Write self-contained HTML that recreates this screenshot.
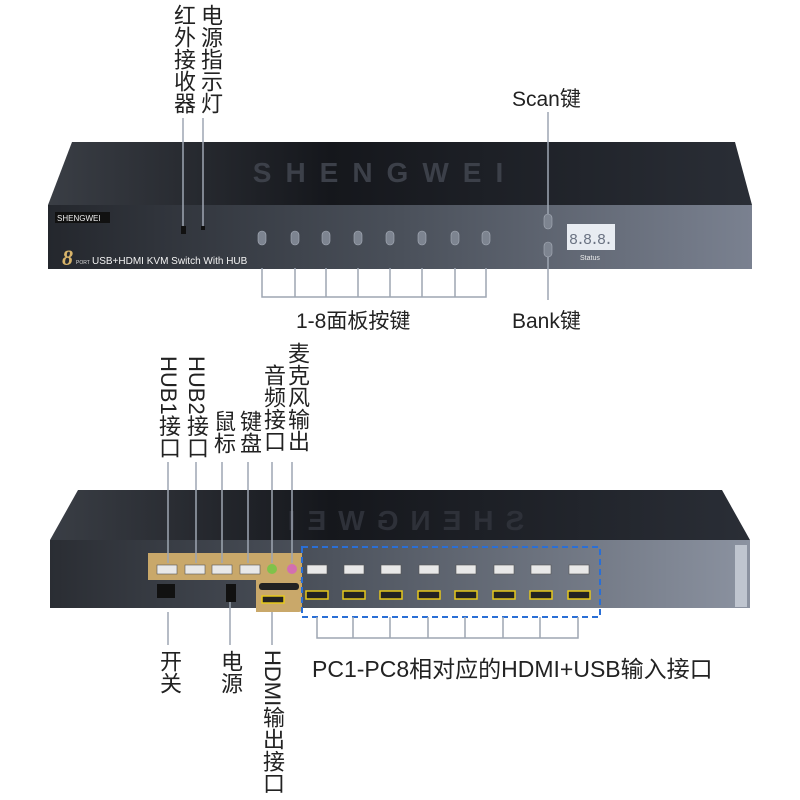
<!DOCTYPE html>
<html><head><meta charset="utf-8"><style>
body{margin:0;width:800px;height:800px;background:#fff;position:relative;overflow:hidden;font-family:"Liberation Sans","Noto Sans CJK SC",sans-serif;color:#222}
.v{position:absolute;writing-mode:vertical-rl;text-orientation:mixed;font-size:22px;line-height:24px;letter-spacing:0px}
.t{position:absolute;font-size:21px;white-space:nowrap}
svg{position:absolute;left:0;top:0}
</style></head><body>
<svg width="800" height="800" viewBox="0 0 800 800">
<defs>
<linearGradient id="tf" x1="0" x2="1"><stop offset="0" stop-color="#3a3e45"/><stop offset=".4" stop-color="#15171c"/><stop offset="1" stop-color="#2a2e36"/></linearGradient>
<linearGradient id="ff" x1="0" x2="1"><stop offset="0" stop-color="#24272d"/><stop offset=".5" stop-color="#4a505a"/><stop offset="1" stop-color="#7a8190"/></linearGradient>
<linearGradient id="bf" x1="0" x2="1"><stop offset="0" stop-color="#2a2d33"/><stop offset=".4" stop-color="#4d535d"/><stop offset="1" stop-color="#8b92a0"/></linearGradient>
</defs>
<!-- top device -->
<polygon points="72,142 735,142 752,205 48,205" fill="url(#tf)"/>
<text x="385" y="182" font-family="Liberation Sans" font-size="28" fill="#3c4049" text-anchor="middle" letter-spacing="14" font-weight="bold">SHENGWEI</text>
<rect x="48" y="205" width="704" height="64" fill="url(#ff)"/>
<rect x="55" y="212" width="55" height="11" fill="#111"/>
<text x="57" y="221" font-size="8" fill="#eee" font-family="Liberation Sans">SHENGWEI</text>
<text x="62" y="265" font-size="22" fill="#d9b56a" font-style="italic" font-weight="bold" font-family="Liberation Serif">8</text>
<text x="76" y="264" font-size="5" fill="#ddd">PORT</text>
<text x="92" y="264" font-size="10" fill="#f2f2f2">USB+HDMI KVM Switch With HUB</text>
<rect x="181" y="226" width="5" height="8" fill="#111"/><rect x="201" y="226" width="4" height="4" fill="#111"/>
<g fill="#7d8490" stroke="#aab0bb" stroke-width=".6">
<rect x="258" y="231" width="8" height="14" rx="4"/><rect x="291" y="231" width="8" height="14" rx="4"/><rect x="322" y="231" width="8" height="14" rx="4"/><rect x="354" y="231" width="8" height="14" rx="4"/><rect x="386" y="231" width="8" height="14" rx="4"/><rect x="418" y="231" width="8" height="14" rx="4"/><rect x="451" y="231" width="8" height="14" rx="4"/><rect x="482" y="231" width="8" height="14" rx="4"/>
<rect x="544" y="214" width="8" height="15" rx="4"/><rect x="544" y="242" width="8" height="15" rx="4"/>
</g>
<rect x="567" y="224" width="48" height="26" fill="#e8ecf2"/>
<text x="569" y="244" font-size="15" fill="#6a7282" font-family="Liberation Mono" textLength="44">8.8.8.</text>
<text x="580" y="260" font-size="7" fill="#eee">Status</text>
<g stroke="#9ea6b2" stroke-width="1.5" fill="none">
<line x1="183" y1="118" x2="183" y2="226"/><line x1="203" y1="118" x2="203" y2="226"/>
<line x1="548" y1="112" x2="548" y2="214"/><line x1="548" y1="257" x2="548" y2="300"/>
<path d="M262 268V297H486V268M295 268V297M326 268V297M358 268V297M390 268V297M422 268V297M455 268V297"/>
</g>
<!-- bottom device -->
<polygon points="78,490 722,490 750,540 50,540" fill="url(#tf)"/>
<text x="400" y="530" font-size="28" fill="#2e3139" text-anchor="middle" letter-spacing="12" font-weight="bold" transform="scale(-1,1) translate(-800,0)">SHENGWEI</text>
<rect x="50" y="540" width="700" height="68" fill="url(#bf)"/>
<rect x="735" y="545" width="12" height="62" fill="#bfc5cf"/>
<path d="M148 553H302V580H262V612H256V580H148Z" fill="#c9a86a"/>
<rect x="256" y="580" width="46" height="32" rx="3" fill="#c9a86a"/>
<rect x="259" y="583" width="40" height="7" rx="3" fill="#222"/>
<g fill="#e8e8e8" stroke="#555" stroke-width=".6">
<rect x="157" y="565" width="20" height="9"/><rect x="185" y="565" width="20" height="9"/><rect x="212" y="565" width="20" height="9"/><rect x="240" y="565" width="20" height="9"/>
<rect x="307" y="565" width="20" height="9"/><rect x="344" y="565" width="20" height="9"/><rect x="381" y="565" width="20" height="9"/><rect x="419" y="565" width="20" height="9"/><rect x="456" y="565" width="20" height="9"/><rect x="494" y="565" width="20" height="9"/><rect x="531" y="565" width="20" height="9"/><rect x="569" y="565" width="20" height="9"/>
</g>
<circle cx="272" cy="569" r="5" fill="#7fc24a"/><circle cx="292" cy="569" r="5" fill="#d36fb0"/>
<g fill="#222" stroke="#e6c81a" stroke-width="1.5">
<rect x="262" y="596" width="22" height="7"/>
<rect x="306" y="591" width="22" height="8"/><rect x="343" y="591" width="22" height="8"/><rect x="380" y="591" width="22" height="8"/><rect x="418" y="591" width="22" height="8"/><rect x="455" y="591" width="22" height="8"/><rect x="493" y="591" width="22" height="8"/><rect x="530" y="591" width="22" height="8"/><rect x="568" y="591" width="22" height="8"/>
</g>
<rect x="157" y="584" width="18" height="14" fill="#111"/>
<rect x="226" y="584" width="10" height="18" fill="#111"/>
<rect x="302" y="547" width="298" height="70" fill="none" stroke="#2a6fd6" stroke-width="2" stroke-dasharray="6,4"/>
<g stroke="#9ea6b2" stroke-width="1.5" fill="none">
<line x1="168" y1="462" x2="168" y2="563"/><line x1="196" y1="462" x2="196" y2="563"/><line x1="222" y1="462" x2="222" y2="563"/><line x1="248" y1="462" x2="248" y2="563"/><line x1="272" y1="462" x2="272" y2="563"/><line x1="292" y1="462" x2="292" y2="563"/>
<line x1="168" y1="612" x2="168" y2="645"/><line x1="230" y1="602" x2="230" y2="645"/><line x1="272" y1="612" x2="272" y2="645"/>
<path d="M317 617V638H578V617M353 617V638M390 617V638M428 617V638M465 617V638M503 617V638M540 617V638"/>
</g>
</svg>
<div class="v" style="left:171px;top:4px">红外接收器</div>
<div class="v" style="left:198px;top:4px">电源指示灯</div>
<div class="t" style="left:512px;top:83px">Scan键</div>
<div class="t" style="left:512px;top:305px">Bank键</div>
<div class="t" style="left:296px;top:305px">1-8面板按键</div>
<div class="v" style="left:156px;top:356px">HUB1接口</div>
<div class="v" style="left:184px;top:356px">HUB2接口</div>
<div class="v" style="left:211px;top:410px">鼠标</div>
<div class="v" style="left:237px;top:410px">键盘</div>
<div class="v" style="left:261px;top:364px">音频接口</div>
<div class="v" style="left:285px;top:342px">麦克风输出</div>
<div class="v" style="left:157px;top:650px">开关</div>
<div class="v" style="left:218px;top:650px">电源</div>
<div class="v" style="left:260px;top:650px">HDMI输出接口</div>
<div class="t" style="left:312px;top:650px;font-size:23px">PC1-PC8相对应的HDMI+USB输入接口</div>
</body></html>
